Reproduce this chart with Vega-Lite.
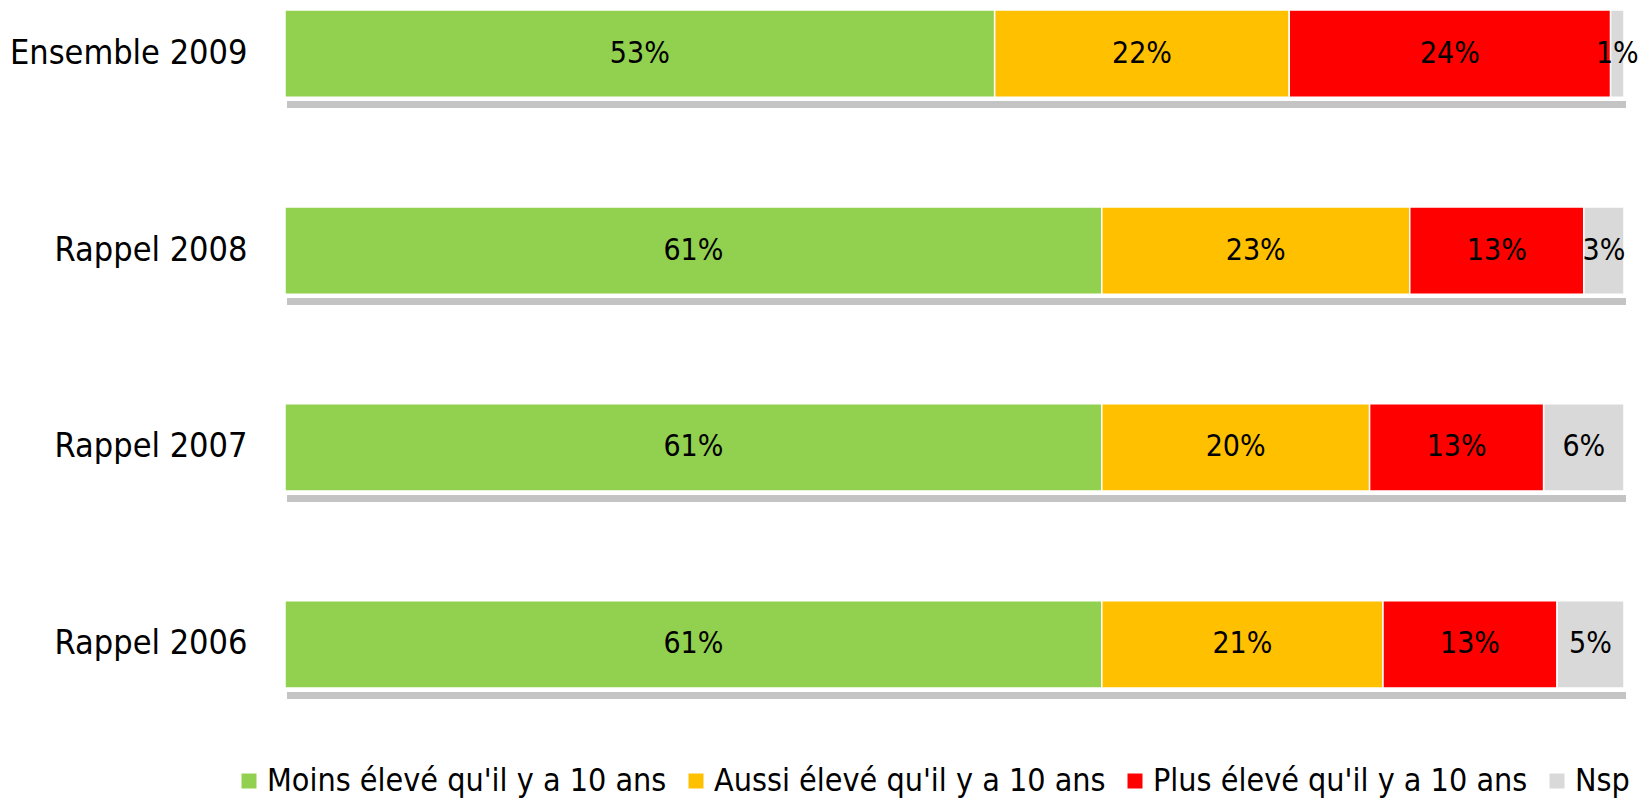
{
  "$schema": "https://vega.github.io/schema/vega-lite/v6.json",
  "autosize": {"type": "none"},
  "padding": {"left": 285, "top": 10, "right": 19, "bottom": 111},
  "width": 1339,
  "height": 678,
  "background": "white",
  "config": {"view": {"stroke": null}},
  "datasets": {
    "main": [
      {"cat": "Ensemble 2009", "resp": "Moins élevé qu'il y a 10 ans", "o": 1, "value": 53},
      {"cat": "Ensemble 2009", "resp": "Aussi élevé qu'il y a 10 ans", "o": 2, "value": 22},
      {"cat": "Ensemble 2009", "resp": "Plus élevé qu'il y a 10 ans", "o": 3, "value": 24},
      {"cat": "Ensemble 2009", "resp": "Nsp", "o": 4, "value": 1},
      {"cat": "Rappel 2008", "resp": "Moins élevé qu'il y a 10 ans", "o": 1, "value": 61},
      {"cat": "Rappel 2008", "resp": "Aussi élevé qu'il y a 10 ans", "o": 2, "value": 23},
      {"cat": "Rappel 2008", "resp": "Plus élevé qu'il y a 10 ans", "o": 3, "value": 13},
      {"cat": "Rappel 2008", "resp": "Nsp", "o": 4, "value": 3},
      {"cat": "Rappel 2007", "resp": "Moins élevé qu'il y a 10 ans", "o": 1, "value": 61},
      {"cat": "Rappel 2007", "resp": "Aussi élevé qu'il y a 10 ans", "o": 2, "value": 20},
      {"cat": "Rappel 2007", "resp": "Plus élevé qu'il y a 10 ans", "o": 3, "value": 13},
      {"cat": "Rappel 2007", "resp": "Nsp", "o": 4, "value": 6},
      {"cat": "Rappel 2006", "resp": "Moins élevé qu'il y a 10 ans", "o": 1, "value": 61},
      {"cat": "Rappel 2006", "resp": "Aussi élevé qu'il y a 10 ans", "o": 2, "value": 21},
      {"cat": "Rappel 2006", "resp": "Plus élevé qu'il y a 10 ans", "o": 3, "value": 13},
      {"cat": "Rappel 2006", "resp": "Nsp", "o": 4, "value": 5}
    ],
    "shadow": [
      {"cat": "Ensemble 2009", "total": 100},
      {"cat": "Rappel 2008", "total": 100},
      {"cat": "Rappel 2007", "total": 100},
      {"cat": "Rappel 2006", "total": 100}
    ]
  },
  "layer": [
    {
      "data": {"name": "shadow"},
      "mark": {"type": "bar", "color": "#c4c4c4", "size": 7, "yOffset": 51, "xOffset": 2},
      "encoding": {
        "y": {"field": "cat", "type": "nominal", "sort": null,
              "scale": {"paddingInner": 0.557, "paddingOuter": 0},
              "axis": {"title": null, "domain": false, "ticks": false, "labelPadding": 38,
                       "labelFont": "DejaVu Sans Condensed", "labelFontSize": 34, "labelColor": "#000000", "labelLimit": 400}},
        "x": {"field": "total", "type": "quantitative", "scale": {"domain": [0, 100]}, "axis": null}
      }
    },
    {
      "data": {"name": "main"},
      "transform": [
        {"stack": "value", "groupby": ["cat"], "sort": [{"field": "o"}], "as": ["x0", "x1"]}
      ],
      "mark": {"type": "bar", "stroke": "white", "strokeWidth": 1.5},
      "encoding": {
        "y": {"field": "cat", "type": "nominal", "sort": null},
        "x": {"field": "x0", "type": "quantitative"},
        "x2": {"field": "x1"},
        "color": {
          "field": "resp", "type": "nominal",
          "scale": {
            "domain": ["Moins élevé qu'il y a 10 ans", "Aussi élevé qu'il y a 10 ans", "Plus élevé qu'il y a 10 ans", "Nsp"],
            "range": ["#92d050", "#ffc000", "#ff0000", "#d9d9d9"]
          },
          "legend": {
            "title": null, "orient": "none", "direction": "horizontal",
            "legendX": -52, "legendY": 755,
            "symbolType": "square", "symbolSize": 225, "symbolStrokeWidth": 0,
            "labelFont": "DejaVu Sans Condensed",
            "labelFontSize": 32, "labelColor": "#000000", "labelOffset": 2,
            "columnPadding": 13, "labelLimit": 600, "symbolOpacity": 1
          }
        }
      }
    },
    {
      "data": {"name": "main"},
      "transform": [
        {"stack": "value", "groupby": ["cat"], "sort": [{"field": "o"}], "as": ["x0", "x1"]},
        {"calculate": "(datum.x0 + datum.x1) / 2", "as": "mid"},
        {"calculate": "datum.value + '%'", "as": "lab"}
      ],
      "mark": {"type": "text", "font": "DejaVu Sans Condensed",
               "fontSize": 30, "color": "#000000", "baseline": "middle", "align": "center"},
      "encoding": {
        "y": {"field": "cat", "type": "nominal", "sort": null},
        "x": {"field": "mid", "type": "quantitative"},
        "text": {"field": "lab"}
      }
    }
  ]
}
